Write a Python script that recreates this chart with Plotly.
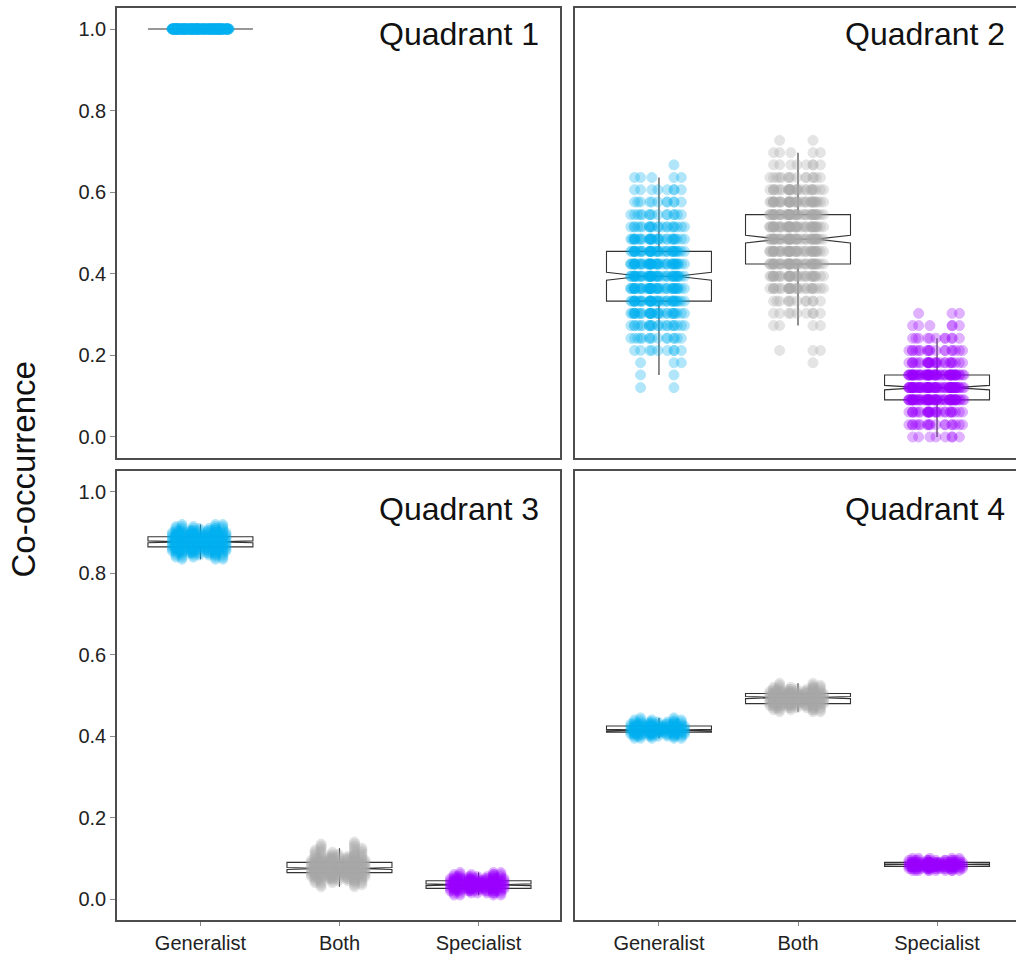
import plotly.graph_objects as go

# ---------------- data ----------------
categories = ["Generalist", "Both", "Specialist"]
panel_titles = ["Quadrant 1", "Quadrant 2", "Quadrant 3", "Quadrant 4"]
y_tick_vals = [0.0, 0.2, 0.4, 0.6, 0.8, 1.0]
y_tick_text = ["0.0", "0.2", "0.4", "0.6", "0.8", "1.0"]
y_title = "Co-occurrence"

# Quadrant 1 (only Generalist, all at 1.0)
q1_generalist_levels = [1.0]
q1_generalist_counts = [250]

# Quadrant 2 (discrete co-occurrence levels)
q2_generalist_levels = [0.121, 0.152, 0.182, 0.212, 0.242, 0.273, 0.303, 0.333, 0.364, 0.394,
                        0.424, 0.455, 0.485, 0.515, 0.545, 0.576, 0.606, 0.636, 0.667]
q2_generalist_counts = [2, 2, 3, 9, 15, 22, 32, 40, 45, 48, 45, 40, 32, 22, 15, 11, 8, 5, 1]

q2_both_levels = [0.182, 0.212, 0.273, 0.303, 0.333, 0.364, 0.394, 0.424, 0.455, 0.485,
                  0.515, 0.545, 0.576, 0.606, 0.636, 0.667, 0.697, 0.727]
q2_both_counts = [1, 3, 4, 9, 12, 28, 35, 45, 45, 48, 45, 45, 40, 28, 15, 8, 5, 2]

q2_specialist_levels = [0.0, 0.030, 0.061, 0.091, 0.121, 0.152, 0.182, 0.212, 0.242, 0.273, 0.303]
q2_specialist_counts = [8, 18, 28, 62, 68, 62, 28, 18, 11, 6, 3]

# Quadrant 3
q3_generalist_levels = [0.835, 0.840, 0.845, 0.850, 0.855, 0.860, 0.865, 0.870, 0.875, 0.880,
                        0.885, 0.890, 0.895, 0.900, 0.905, 0.910, 0.915, 0.920]
q3_generalist_counts = [3, 5, 8, 12, 16, 20, 24, 27, 28, 28, 27, 24, 20, 16, 12, 8, 5, 3]

q3_both_levels = [0.030, 0.035, 0.040, 0.045, 0.050, 0.055, 0.060, 0.065, 0.070, 0.075, 0.080,
                  0.085, 0.090, 0.095, 0.100, 0.105, 0.110, 0.115, 0.120, 0.125, 0.130, 0.135, 0.140]
q3_both_counts = [2, 3, 5, 8, 12, 16, 20, 24, 27, 28, 27, 24, 20, 16, 12, 9, 7, 5, 4, 3, 2, 2, 1]

q3_specialist_levels = [0.010, 0.015, 0.020, 0.025, 0.030, 0.035, 0.040, 0.045, 0.050, 0.055, 0.060, 0.065]
q3_specialist_counts = [4, 8, 14, 22, 28, 30, 28, 22, 16, 10, 6, 3]

# Quadrant 4
q4_generalist_levels = [0.395, 0.400, 0.405, 0.410, 0.415, 0.420, 0.425, 0.430, 0.435, 0.440, 0.445]
q4_generalist_counts = [5, 10, 18, 26, 30, 28, 22, 15, 9, 5, 2]

q4_both_levels = [0.460, 0.465, 0.470, 0.475, 0.480, 0.485, 0.490, 0.495, 0.500, 0.505,
                  0.510, 0.515, 0.520, 0.525, 0.530]
q4_both_counts = [3, 6, 10, 15, 20, 24, 27, 27, 24, 20, 15, 10, 6, 3, 2]

q4_specialist_levels = [0.070, 0.075, 0.080, 0.085, 0.090, 0.095, 0.100]
q4_specialist_counts = [10, 22, 38, 40, 26, 14, 5]

# ---------------- styling ----------------
colors = {"Generalist": "#00B0F0", "Both": "#A8A8A8", "Specialist": "#9B00FF"}
FONT = "Liberation Sans, Arial, sans-serif"
BOX_W = 0.755
JITTER = 0.55
BOX_LINE = "#333333"
FRAME = "#4d4d4d"

groups = [
    (1, "Generalist", q1_generalist_levels, q1_generalist_counts),
    (2, "Generalist", q2_generalist_levels, q2_generalist_counts),
    (2, "Both", q2_both_levels, q2_both_counts),
    (2, "Specialist", q2_specialist_levels, q2_specialist_counts),
    (3, "Generalist", q3_generalist_levels, q3_generalist_counts),
    (3, "Both", q3_both_levels, q3_both_counts),
    (3, "Specialist", q3_specialist_levels, q3_specialist_counts),
    (4, "Generalist", q4_generalist_levels, q4_generalist_counts),
    (4, "Both", q4_both_levels, q4_both_counts),
    (4, "Specialist", q4_specialist_levels, q4_specialist_counts),
]

axis_ids = {1: ("x", "y"), 2: ("x2", "y2"), 3: ("x3", "y3"), 4: ("x4", "y4")}

fig = go.Figure()

# boxes first (drawn underneath the points); whiskers use the 1.5*IQR fences
for panel, cat, levels, counts in groups:
    xa, ya = axis_ids[panel]
    values = [lv for lv, c in zip(levels, counts) for _ in range(c)]
    fig.add_trace(go.Box(
        x=[cat] * len(values), y=values, xaxis=xa, yaxis=ya,
        width=BOX_W, notched=True, notchwidth=0.33, whiskerwidth=0,
        boxpoints="outliers", pointpos=0, jitter=0,
        marker=dict(size=1, opacity=0, color="rgba(0,0,0,0)"),
        line=dict(color=BOX_LINE, width=1.1),
        fillcolor="rgba(255,255,255,0)", showlegend=False, hoverinfo="skip",
    ))

# jittered points, one trace per level so the jitter is uniform
for panel, cat, levels, counts in groups:
    xa, ya = axis_ids[panel]
    col = colors[cat]
    for lv, c in zip(levels, counts):
        fig.add_trace(go.Box(
            x=[cat] * c, y=[lv] * c, xaxis=xa, yaxis=ya,
            width=BOX_W, boxpoints="all", jitter=JITTER, pointpos=0,
            line=dict(color="rgba(0,0,0,0)", width=0),
            fillcolor="rgba(0,0,0,0)",
            marker=dict(color=col, size=10, opacity=0.3,
                        line=dict(color=col, width=1)),
            showlegend=False, hoverinfo="skip",
        ))

W, H = 1016, 954
L, R, T, B = 117, 0, 8, 34
pw, ph = W - L - R, H - T - B


def px_x(p):
    return (p - L) / pw


def px_y(p):
    return (H - B - p) / ph


left_dom = [0, px_x(560)]
right_dom = [px_x(575), 1]
top_dom = [px_y(458), 1]
bot_dom = [0, px_y(471)]

common_x = dict(type="category", categoryorder="array", categoryarray=categories,
                showgrid=False, zeroline=False, showline=True, linecolor=FRAME,
                linewidth=1.5, mirror=True, fixedrange=True)
common_y = dict(range=[-0.0515, 1.0515], showgrid=False, zeroline=False,
                showline=True, linecolor=FRAME, linewidth=1.5, fixedrange=True,
                tickvals=y_tick_vals, ticktext=y_tick_text)
x_ticks_on = dict(ticks="outside", ticklen=4, tickcolor="#888", tickwidth=1,
                  showticklabels=True, tickfont=dict(family=FONT, size=20, color="#222"))
x_ticks_off = dict(ticks="", showticklabels=False)
y_ticks_on = dict(ticks="outside", ticklen=5, tickcolor="#888", tickwidth=1,
                  showticklabels=True, tickfont=dict(family=FONT, size=20, color="#222"))
y_ticks_off = dict(ticks="", showticklabels=False)

fig.update_layout(
    width=W, height=H,
    margin=dict(l=L, r=R, t=T, b=B),
    paper_bgcolor="white", plot_bgcolor="white",
    boxmode="overlay", showlegend=False,
    font=dict(family=FONT, color="#111"),
    xaxis=dict(domain=left_dom, anchor="y", range=[-0.6, 2.586], **common_x, **x_ticks_off),
    yaxis=dict(domain=top_dom, anchor="x", mirror=True, **common_y, **y_ticks_on),
    xaxis2=dict(domain=right_dom, anchor="y2", range=[-0.604, 2.568], **common_x, **x_ticks_off),
    yaxis2=dict(domain=top_dom, anchor="x2", mirror=False, **common_y, **y_ticks_off),
    xaxis3=dict(domain=left_dom, anchor="y3", range=[-0.6, 2.586], **common_x, **x_ticks_on),
    yaxis3=dict(domain=bot_dom, anchor="x3", mirror=True, **common_y, **y_ticks_on),
    xaxis4=dict(domain=right_dom, anchor="y4", range=[-0.604, 2.568], **common_x, **x_ticks_on),
    yaxis4=dict(domain=bot_dom, anchor="x4", mirror=False, **common_y, **y_ticks_off),
)

ann_pos = [(541, 34), (1007, 34), (541, 509), (1007, 509)]
for title, (ax_, ay_) in zip(panel_titles, ann_pos):
    fig.add_annotation(text=title, xref="paper", yref="paper", x=px_x(ax_), y=px_y(ay_),
                       xanchor="right", yanchor="middle", showarrow=False,
                       font=dict(family=FONT, size=32, color="#111"))

fig.add_annotation(text=y_title, xref="paper", yref="paper", x=px_x(23.5), y=px_y(470),
                   xanchor="center", yanchor="middle", textangle=-90, showarrow=False,
                   font=dict(family=FONT, size=33, color="#111"))

fig.write_html(
    "out.html",
    config={"displayModeBar": False},
    post_script="document.body.style.margin='0';document.body.style.padding='0';",
)
